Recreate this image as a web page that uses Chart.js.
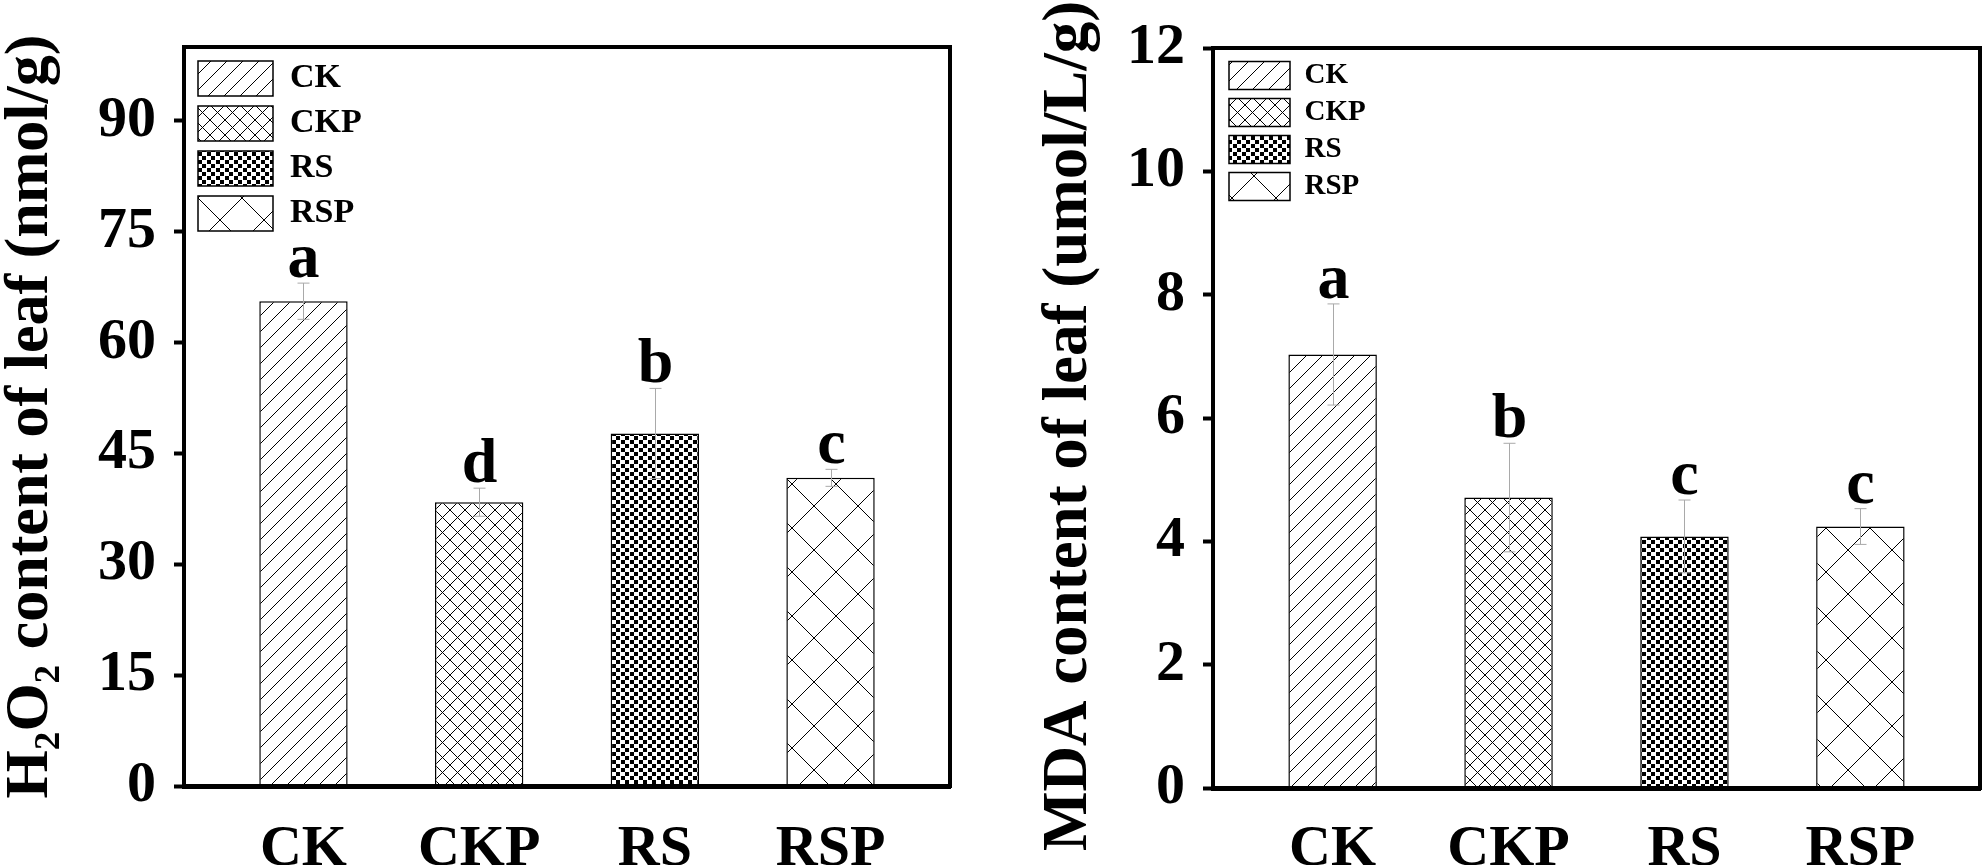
<!DOCTYPE html>
<html><head><meta charset="utf-8">
<script src="https://cdn.jsdelivr.net/npm/chart.js@4.4.0/dist/chart.umd.min.js"></script>
<style>
html,body{margin:0;padding:0;background:#fff;}
#wrap{position:relative;width:1985px;height:865px;overflow:hidden;background:#fff;}
.c{position:absolute;top:0;}
</style></head><body>
<div id="wrap">
<div class="c" style="left:0"><canvas id="h2o2" width="990" height="865"></canvas></div>
<div class="c" style="left:990px"><canvas id="mda" width="995" height="865"></canvas></div>
</div>
<script>
// ---- data ----
const categories = ['CK', 'CKP', 'RS', 'RSP'];
const h2o2Values = [65.6, 38.4, 47.7, 41.7];
const h2o2Errors = [2.45, 1.9, 6.1, 1.15];
const h2o2Letters = ['a', 'd', 'b', 'c'];
const h2o2Ticks = [0, 15, 30, 45, 60, 75, 90];
const mdaValues = [7.03, 4.71, 4.08, 4.24];
const mdaErrors = [0.82, 0.88, 0.59, 0.29];
const mdaLetters = ['a', 'b', 'c', 'c'];
const mdaTicks = [0, 2, 4, 6, 8, 10, 12];

const FAMILY = '"Liberation Serif", "Times New Roman", serif';

// ---- hatch patterns ----
function tile(w, h, draw) {
  const c = document.createElement('canvas');
  c.width = w; c.height = h;
  const x = c.getContext('2d');
  x.fillStyle = '#fff'; x.fillRect(0, 0, w, h);
  x.strokeStyle = '#000'; x.fillStyle = '#000'; x.lineWidth = 1;
  draw(x, w, h);
  return x.createPattern(c, 'repeat');
}
function fwd(x, s) { x.beginPath(); for (const o of [-s, 0, s]) { x.moveTo(o - 1, s + 1); x.lineTo(o + s + 1, -1); } x.stroke(); }
function back(x, s) { x.beginPath(); for (const o of [-s, 0, s]) { x.moveTo(o - 1, -1); x.lineTo(o + s + 1, s + 1); } x.stroke(); }
const patterns = [
  tile(16, 16, (x, s) => fwd(x, s)),
  tile(15, 15, (x, s) => { fwd(x, s); back(x, s); }),
  tile(9, 8, (x) => { x.fillRect(0, 0, 4, 4); x.fillRect(4, 4, 4, 4); }),
  tile(44, 44, (x, s) => { fwd(x, s); back(x, s); })
];

// ---- plugin: error bars, letters, frame, legend offset ----
const extras = {
  id: 'extras',
  afterLayout(chart, args, o) {
    const lg = chart.legend, a = chart.chartArea, p = chart.options.plugins.legend.labels.padding;
    if (lg) { lg.left = a.left + o.legendDx - p; lg.top = a.top + o.legendDy - p; }
  },
  afterDatasetsDraw(chart, args, o) {
    const ctx = chart.ctx, xs = chart.scales.x, ys = chart.scales.y;
    ctx.save();
    o.values.forEach((v, i) => {
      const x = Math.round(xs.getPixelForValue(i)) + 0.5;
      const yt = ys.getPixelForValue(v + o.errors[i]);
      const yb = ys.getPixelForValue(v - o.errors[i]);
      ctx.strokeStyle = '#a9a9a9'; ctx.lineWidth = 1;
      ctx.beginPath();
      ctx.moveTo(x, yt); ctx.lineTo(x, yb);
      ctx.moveTo(x - 6, yt); ctx.lineTo(x + 6, yt);
      ctx.moveTo(x - 6, yb); ctx.lineTo(x + 6, yb);
      ctx.stroke();
      ctx.fillStyle = '#000';
      ctx.font = 'bold 64px ' + FAMILY;
      ctx.textAlign = 'center'; ctx.textBaseline = 'alphabetic';
      ctx.fillText(o.letters[i], x, yt - 6);
    });
    const a = chart.chartArea;
    ctx.strokeStyle = '#000'; ctx.lineWidth = 4;
    ctx.beginPath();
    ctx.moveTo(a.left, a.top); ctx.lineTo(a.right, a.top); ctx.lineTo(a.right, a.bottom + 2);
    ctx.stroke();
    ctx.restore();
  }
};

function makeChart(id, cfg) {
  return new Chart(document.getElementById(id), {
    type: 'bar',
    data: {
      datasets: [{
        data: categories.map((c, i) => ({ x: i, y: cfg.values[i] })),
        backgroundColor: patterns,
        borderColor: '#000',
        borderWidth: 1.5,
        categoryPercentage: 1,
        barPercentage: 0.503
      }]
    },
    options: {
      responsive: false,
      devicePixelRatio: 1,
      animation: false,
      events: [],
      layout: { padding: { top: cfg.top, right: cfg.right, left: 0, bottom: 0 } },
      scales: {
        x: {
          type: 'linear', min: -0.68, max: 3.68, offset: false,
          afterBuildTicks: s => { s.ticks = categories.map((c, i) => ({ value: i })); },
          afterFit: s => { s.height = cfg.xh; },
          grid: { display: false, offset: false },
          border: { display: true, color: '#000', width: 5, z: 1 },
          ticks: {
            autoSkip: false, maxRotation: 0, padding: cfg.xpad, color: '#000',
            font: { family: FAMILY, weight: 'bold', size: 58, lineHeight: 1 },
            callback: v => categories[v]
          }
        },
        y: {
          min: 0, max: cfg.max,
          afterBuildTicks: s => { s.ticks = cfg.ticks.map(v => ({ value: v })); },
          afterFit: s => { s.width = cfg.yw; },
          grid: { display: true, drawOnChartArea: false, drawTicks: true, tickLength: 10, tickWidth: 4, tickColor: '#000' },
          border: { display: true, color: '#000', width: 4, z: 1 },
          ticks: {
            padding: 18, color: '#000',
            font: { family: FAMILY, weight: 'bold', size: 58, lineHeight: 1 }
          },
          title: {
            display: true, text: cfg.title, color: '#000',
            font: { family: FAMILY, weight: 'bold', size: cfg.titleSize, lineHeight: 1 },
            padding: { top: cfg.titlePad, bottom: 0 }
          }
        }
      },
      plugins: {
        tooltip: { enabled: false },
        legend: {
          position: 'chartArea', align: 'start',
          labels: {
            boxWidth: cfg.boxW, boxHeight: cfg.boxH, padding: cfg.legPad, color: '#000',
            font: { family: FAMILY, weight: 'bold', size: cfg.legFont },
            generateLabels: () => categories.map((c, i) => ({
              text: c, fillStyle: patterns[i], strokeStyle: '#000', lineWidth: 1.5, hidden: false, index: i, datasetIndex: 0
            }))
          }
        },
        extras: { values: cfg.values, errors: cfg.errors, letters: cfg.letters, legendDx: cfg.legDx, legendDy: cfg.legDy }
      }
    },
    plugins: [extras]
  });
}

makeChart('h2o2', {
  values: h2o2Values, errors: h2o2Errors, letters: h2o2Letters, ticks: h2o2Ticks, max: 100,
  title: 'H\u2082O\u2082 content of leaf (nmol/g)', titleSize: 62,
  top: 44, right: 40, xh: 79, xpad: 27, yw: 184, titlePad: 0,
  boxW: 75, boxH: 35, legPad: 10, legFont: 34, legDx: 14, legDy: 14
});
makeChart('mda', {
  values: mdaValues, errors: mdaErrors, letters: mdaLetters, ticks: mdaTicks, max: 12,
  title: 'MDA content of leaf (umol/L/g) ', titleSize: 63,
  top: 48, right: 5, xh: 77, xpad: 25, yw: 223, titlePad: 48,
  boxW: 61, boxH: 28, legPad: 8, legFont: 29, legDx: 16, legDy: 13
});
</script>
</body></html>
